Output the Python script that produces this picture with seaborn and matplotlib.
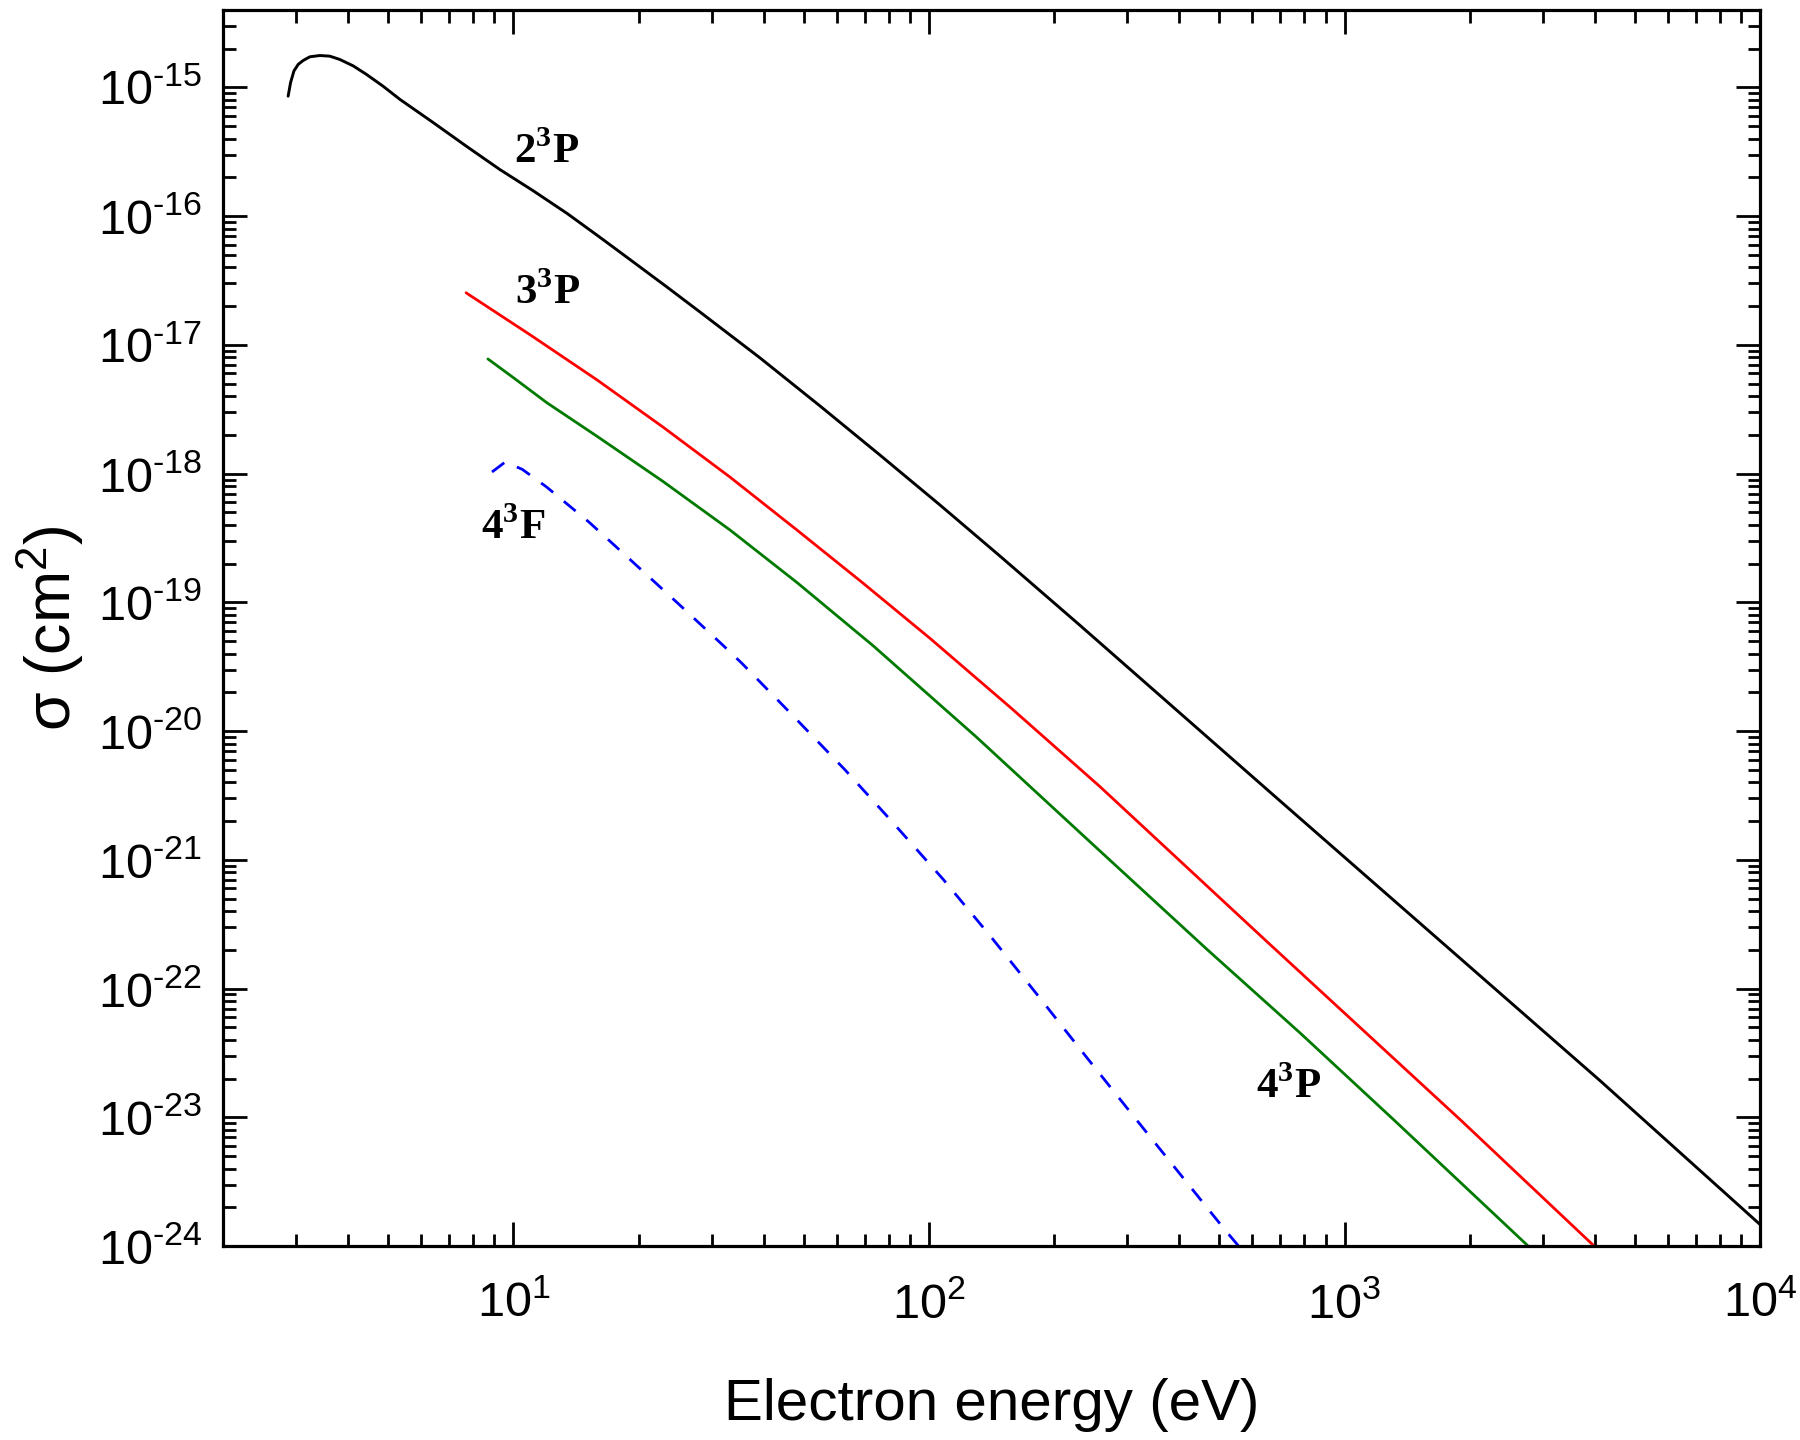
import numpy as np
import pandas as pd
import matplotlib
matplotlib.use("Agg")
import matplotlib.pyplot as plt
import seaborn as sns
from matplotlib.ticker import LogLocator, NullFormatter, FuncFormatter

# Electron-impact excitation cross sections
e_2p = [2.869, 2.908, 2.962, 3.033, 3.119, 3.236, 3.420, 3.614, 3.819,
        4.115, 4.432, 4.860, 5.332, 6.401, 7.727, 9.280, 11.14, 13.46, 16.16,
        19.40, 23.43, 28.12, 39.2, 54.7, 76.3, 106.4, 148.4, 231, 689.5,
        4133, 10000]
s_2p = [8.55e-16, 1.09e-15, 1.34e-15, 1.51e-15, 1.62e-15, 1.73e-15, 1.77e-15,
        1.75e-15, 1.65e-15, 1.47e-15, 1.26e-15, 1.02e-15, 8.07e-16, 5.35e-16,
        3.47e-16, 2.30e-16, 1.58e-16, 1.05e-16, 6.84e-17, 4.42e-17, 2.81e-17,
        1.80e-17, 7.93e-18, 3.35e-18, 1.39e-18, 5.69e-19, 2.28e-19, 6.62e-20,
        2.99e-21, 1.91e-23, 1.47e-24]

e_3p = [7.69, 10.96, 15.9, 22.9, 33.2, 48.2, 69.4, 100.6, 158, 258, 652, 1901, 4042]
s_3p = [2.54e-17, 1.20e-17, 5.34e-18, 2.30e-18, 9.4e-19, 3.63e-19, 1.41e-19,
        5.25e-20, 1.5e-20, 3.7e-21, 2.3e-22, 9.55e-24, 9.6e-25]

e_4p = [8.68, 9.97, 12.04, 15.89, 22.9, 33.2, 48.2, 73.4, 130, 258, 468, 783, 1312, 2804]
s_4p = [7.78e-18, 5.6e-18, 3.55e-18, 1.95e-18, 8.7e-19, 3.65e-19, 1.42e-19,
        4.6e-20, 9.0e-21, 1.17e-21, 2.0e-22, 4.5e-23, 9.6e-24, 9.6e-25]

e_4f = [8.88, 9.55, 10.5, 12.0, 15.2, 19.4, 24.9, 31.8, 35.5, 46.4, 62.8, 80.7,
        108, 140.6, 182, 238, 307, 514, 556]
s_4f = [1.03e-18, 1.23e-18, 1.08e-18, 7.9e-19, 4.2e-19, 2.05e-19, 9.8e-20,
        4.7e-20, 3.35e-20, 1.38e-20, 5.0e-21, 2.05e-21, 7.1e-22, 2.55e-22,
        9.0e-23, 3.0e-23, 1.07e-23, 1.35e-24, 1.0e-24]

labels = [r"2$^{\mathdefault{3}}$P", r"3$^{\mathdefault{3}}$P",
          r"4$^{\mathdefault{3}}$F", r"4$^{\mathdefault{3}}$P"]
label_e = [12.0, 12.1, 10.0, 733]
label_s = [3.12e-16, 2.54e-17, 3.8e-19, 1.7e-23]

sns.set_style("ticks")
plt.rcParams["font.family"] = ["Liberation Sans", "DejaVu Sans"]
plt.rcParams["text.color"] = "black"
plt.rcParams["axes.labelcolor"] = "black"
plt.rcParams["xtick.color"] = "black"
plt.rcParams["ytick.color"] = "black"


def pow10(v, pos):
    n = int(round(np.log10(v)))
    s = str(n).replace("-", "\u2010")
    return r"$\mathdefault{10^{%s}}$" % s


fig, ax = plt.subplots(figsize=(18, 14.4), dpi=100)
fig.subplots_adjust(left=0.1239, right=0.9778, top=0.9931, bottom=0.1347)

sns.lineplot(x=e_2p, y=s_2p, color="black", lw=2.1, ax=ax, sort=False, estimator=None)
sns.lineplot(x=e_3p, y=s_3p, color="#ff0000", lw=2.0, ax=ax, sort=False, estimator=None)
sns.lineplot(x=e_4p, y=s_4p, color="#007a00", lw=2.0, ax=ax, sort=False, estimator=None)
sns.lineplot(x=e_4f, y=s_4f, color="#0000ff", lw=2.0, ax=ax, sort=False,
             estimator=None, linestyle=(0, (5.5, 5)))

ax.set_xscale("log")
ax.set_yscale("log")
ax.set_xlim(2, 1e4)
ax.set_ylim(1e-24, 4e-15)

for txt, x, y in zip(labels, label_e, label_s):
    ax.text(x, y, txt, fontfamily="Liberation Serif", fontweight="bold",
            fontsize=31, ha="center", va="center")

ax.xaxis.set_major_locator(LogLocator(base=10, numticks=20))
ax.yaxis.set_major_locator(LogLocator(base=10, numticks=20))
ax.xaxis.set_minor_locator(LogLocator(base=10, subs=np.arange(2, 10), numticks=20))
ax.yaxis.set_minor_locator(LogLocator(base=10, subs=np.arange(2, 10), numticks=20))
ax.xaxis.set_major_formatter(FuncFormatter(pow10))
ax.yaxis.set_major_formatter(FuncFormatter(pow10))
ax.xaxis.set_minor_formatter(NullFormatter())
ax.yaxis.set_minor_formatter(NullFormatter())

ax.tick_params(which="both", direction="in", top=True, right=True, width=2,
               color="black", labelsize=35)
ax.tick_params(axis="y", which="both", pad=15)
ax.tick_params(axis="x", which="both", pad=26)
ax.tick_params(which="major", length=17)
ax.tick_params(which="minor", length=9)
for sp in ax.spines.values():
    sp.set_linewidth(2.3)
    sp.set_color("black")

ax.set_xlabel("Electron energy (eV)", fontsize=42, labelpad=36)
ax.set_ylabel(r"σ (cm$^{\mathdefault{2}}$)", fontsize=45, labelpad=8)

fig.savefig("out.png", dpi=100, facecolor="white")
